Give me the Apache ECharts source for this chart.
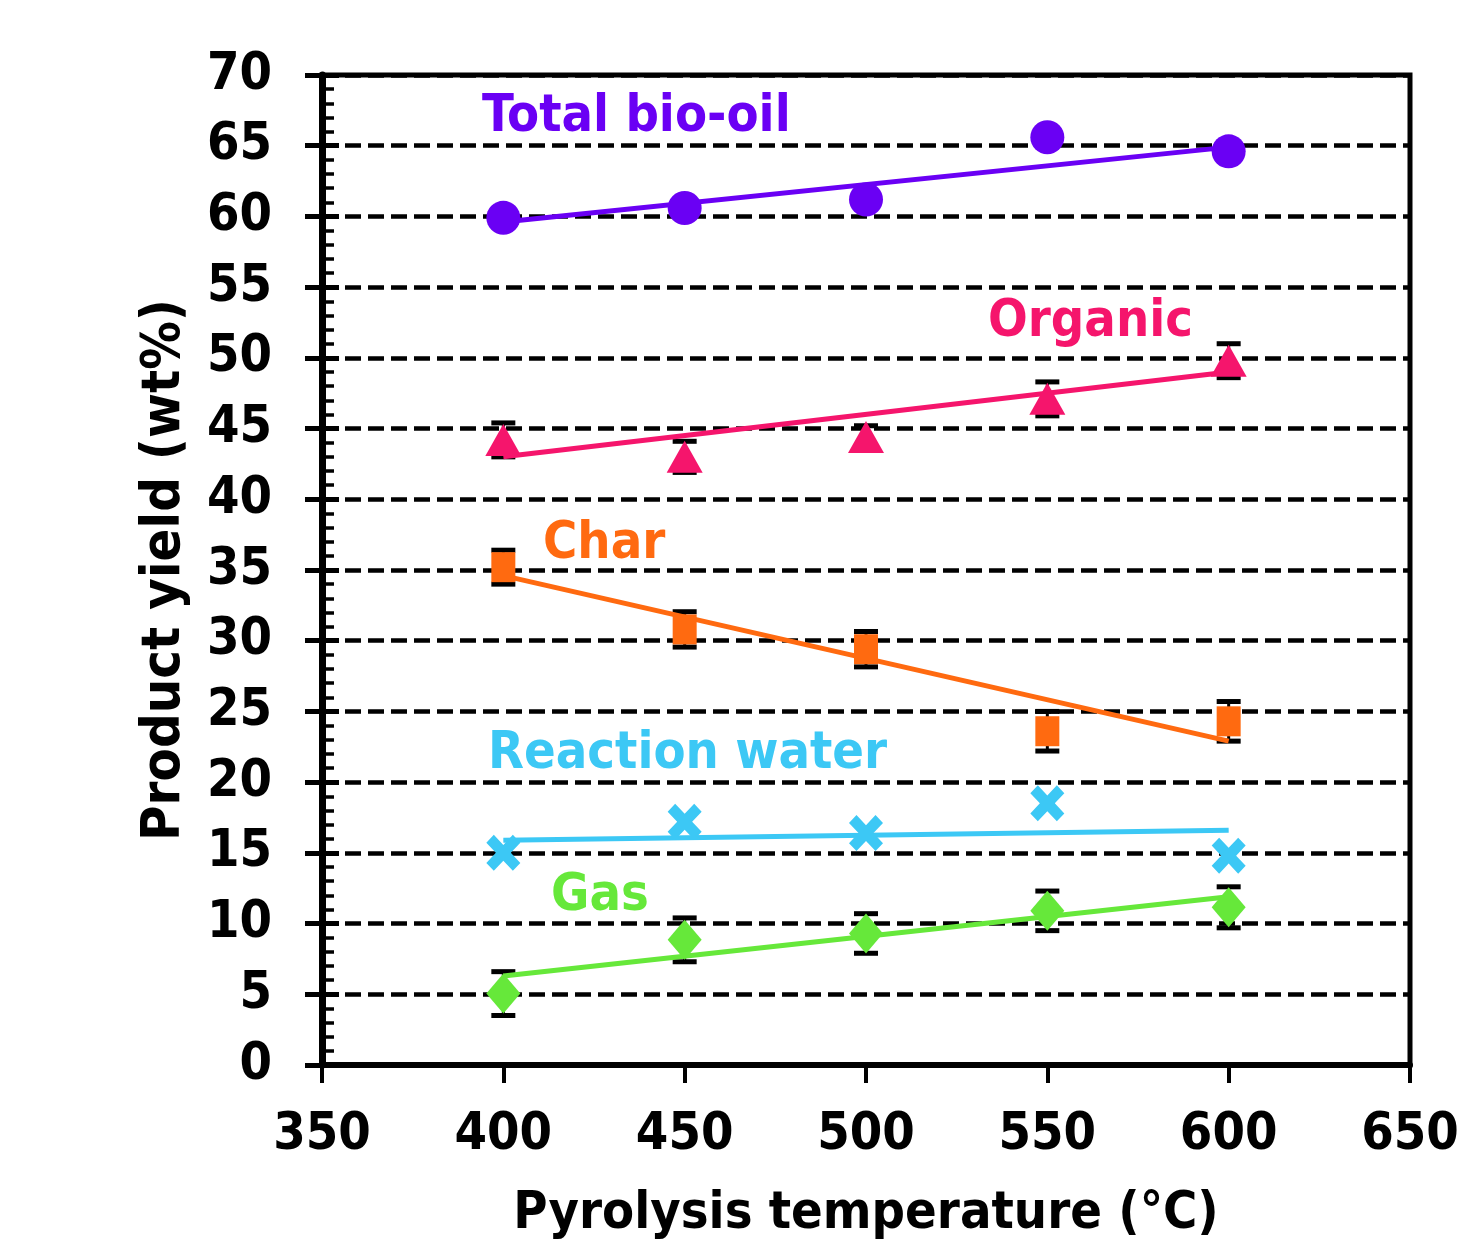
<!DOCTYPE html>
<html>
<head>
<meta charset="utf-8">
<script src="https://cdn.jsdelivr.net/npm/echarts@6/dist/echarts.min.js"></script>
<style>html,body{margin:0;padding:0;background:#fff}#c{width:1468px;height:1245px}</style>
</head>
<body>
<div id="c"></div>
<script>
const temps = [400, 450, 500, 550, 600];
const bioOil = [59.9, 60.6, 61.2, 65.6, 64.6];
const organic = [44.2, 43.0, 44.4, 47.1, 49.8];
const organicErr = [1.2, 1.1, 0.8, 1.2, 1.2];
const charY = [35.2, 30.8, 29.4, 23.6, 24.3];
const charErr = [1.2, 1.25, 1.25, 1.4, 1.4];
const water = [15.0, 17.2, 16.4, 18.5, 14.8];
const gas = [5.05, 8.85, 9.3, 10.9, 11.15];
const gasErr = [1.55, 1.55, 1.4, 1.4, 1.45];
const trendX = [400, 600];
const bioOilTrend = [59.6, 64.9];
const organicTrend = [43.0, 49.0];
const charTrend = [34.6, 22.9];
const waterTrend = [15.9, 16.6];
const gasTrend = [6.3, 11.9];
const xTicks = [350, 400, 450, 500, 550, 600, 650];
const yTicks = [0, 5, 10, 15, 20, 25, 30, 35, 40, 45, 50, 55, 60, 65, 70];

const C = {bio:'#6A00F4', org:'#F5156C', chr:'#FF6A10', wat:'#3CC8F5', gas:'#66E83A'};
const FONT = 'DejaVu Sans Condensed';
const xPath = 'path://M0,2.2 L2.2,0 L5,2.8 L7.8,0 L10,2.2 L7.2,5 L10,7.8 L7.8,10 L5,7.2 L2.2,10 L0,7.8 L2.8,5 Z';

function pts(xs, ys){ return xs.map((x,i)=>[x, ys[i]]); }
function errData(ys, es){ return temps.map((x,i)=>[x, ys[i]-es[i], ys[i]+es[i]]); }

function errSeries(ys, es){
  return {
    type:'custom', z:2, silent:true,
    data: errData(ys, es),
    renderItem: function(params, api){
      const x = api.value(0);
      const lo = api.coord([x, api.value(1)]);
      const hi = api.coord([x, api.value(2)]);
      const hw = 12;
      const st = {stroke:'#000', lineWidth:5};
      return {type:'group', children:[
        {type:'line', shape:{x1:lo[0], y1:lo[1], x2:hi[0], y2:hi[1]}, style:{stroke:'#000', lineWidth:3}},
        {type:'line', shape:{x1:lo[0]-hw, y1:lo[1], x2:lo[0]+hw, y2:lo[1]}, style:st},
        {type:'line', shape:{x1:hi[0]-hw, y1:hi[1], x2:hi[0]+hw, y2:hi[1]}, style:st}
      ]};
    }
  };
}
function trend(ys, color){
  return {type:'line', z:3, data: pts(trendX, ys), showSymbol:false, symbol:'none',
    lineStyle:{color:color, width:5}, silent:true};
}
function scatter(ys, color, symbol, size){
  return {type:'scatter', z:4, data: pts(temps, ys), symbol:symbol, symbolSize:size,
    itemStyle:{color:color, opacity:1}};
}

const chart = echarts.init(document.getElementById('c'), null, {renderer:'canvas'});
const labelStyle = (text, color, x, y) => ({type:'text', left:x, top:y, z:10,
  style:{text:text, fill:color, font:'bold 52px "'+FONT+'"'}});

chart.setOption({
  animation:false,
  backgroundColor:'#fff',
  grid:{left:322, right:58, top:75, bottom:178, show:true, borderColor:'#000', borderWidth:5, backgroundColor:'transparent'},
  xAxis:{
    type:'value', min:xTicks[0], max:xTicks[xTicks.length-1], interval:50,
    name:'Pyrolysis temperature (°C)', nameLocation:'middle', nameGap:123,
    nameTextStyle:{fontFamily:FONT, fontWeight:'bold', fontSize:52, color:'#000'},
    axisLine:{lineStyle:{color:'#000', width:6}},
    axisTick:{length:18, lineStyle:{color:'#000', width:4}},
    axisLabel:{margin:44, fontFamily:FONT, fontWeight:'bold', fontSize:52, color:'#000'},
    splitLine:{show:false}
  },
  yAxis:[{
    type:'value', min:yTicks[0], max:yTicks[yTicks.length-1], interval:5,
    name:'Product yield (wt%)', nameLocation:'middle', nameGap:130,
    nameTextStyle:{fontFamily:FONT, fontWeight:'bold', fontSize:54, color:'#000'},
    axisLine:{lineStyle:{color:'#000', width:7}},
    axisTick:{length:17, lineStyle:{color:'#000', width:5}},
    axisLabel:{margin:50, fontFamily:FONT, fontWeight:'bold', fontSize:52, color:'#000'},
    splitLine:{show:true, lineStyle:{color:'#000', width:4.5, type:[16,7]}}
  },{
    type:'value', min:yTicks[0], max:yTicks[yTicks.length-1], interval:5, position:'left',
    axisLine:{show:false},
    axisTick:{inside:true, length:17, lineStyle:{color:'#000', width:5}},
    minorTick:{show:true, splitNumber:5, length:12, lineStyle:{color:'#000', width:3.5}},
    axisLabel:{show:false}, splitLine:{show:false}
  }],
  graphic:[
    labelStyle('Total bio-oil', C.bio, 482, 91),
    labelStyle('Organic', C.org, 988, 296),
    labelStyle('Char', C.chr, 543, 518),
    labelStyle('Reaction water', C.wat, 488, 728),
    labelStyle('Gas', C.gas, 551, 870)
  ],
  series:[
    trend(bioOilTrend, C.bio),
    trend(organicTrend, C.org),
    trend(charTrend, C.chr),
    trend(waterTrend, C.wat),
    trend(gasTrend, C.gas),
    errSeries(organic, organicErr),
    errSeries(charY, charErr),
    errSeries(gas, gasErr),
    scatter(bioOil, C.bio, 'circle', 34),
    scatter(organic, C.org, 'triangle', [36, 32]),
    scatter(charY, C.chr, 'rect', [24, 30]),
    scatter(water, C.wat, xPath, [34, 36]),
    scatter(gas, C.gas, 'diamond', [34, 40])
  ]
});
</script>
</body>
</html>
